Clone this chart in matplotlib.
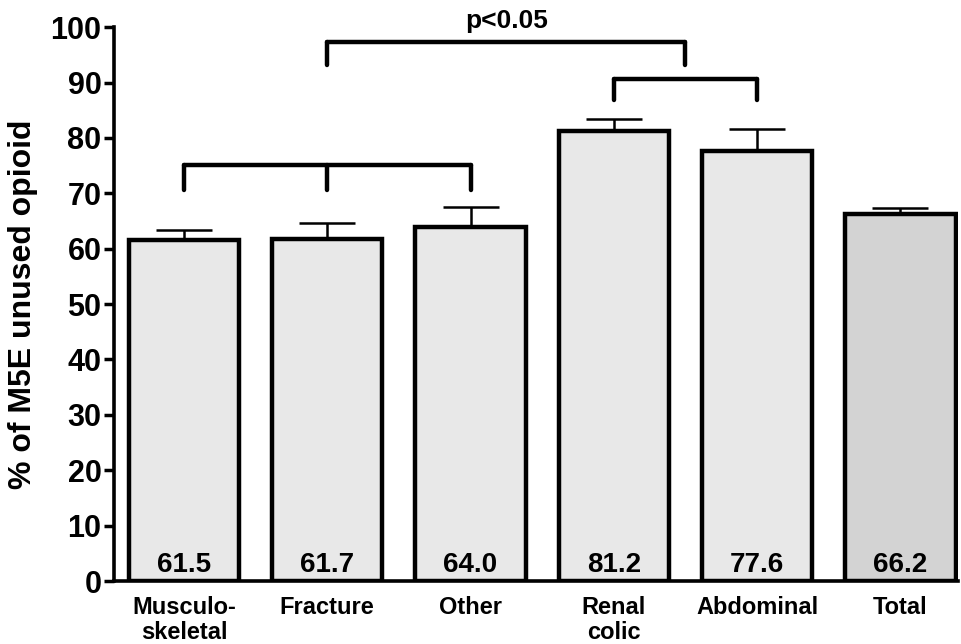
import numpy as np
import matplotlib

matplotlib.use("Agg")
import matplotlib.pyplot as plt

# data
categories = ["Musculo-\nskeletal", "Fracture", "Other", "Renal\ncolic", "Abdominal", "Total"]
means = [61.5, 61.7, 64.0, 81.2, 77.6, 66.2]
sem = [1.9, 2.9, 3.6, 2.2, 4.0, 1.2]
labels = ["61.5", "61.7", "64.0", "81.2", "77.6", "66.2"]
colors = ["#e8e8e8"] * 5 + ["#d3d3d3"]

FONT = ["Liberation Sans", "DejaVu Sans"]

fig = plt.figure(figsize=(9.61, 6.44), dpi=100)
ax = fig.add_axes([0.1186, 0.0978, 0.878, 0.860])

x = np.arange(len(means))
ax.errorbar(x, means, yerr=[np.zeros(len(sem)), sem], fmt="none",
            ecolor="black", elinewidth=1.8, capsize=20, capthick=1.8, zorder=1)
ax.bar(x, means, width=0.77, color=colors, edgecolor="black", linewidth=3.2, zorder=2)

for xi, lab in zip(x, labels):
    ax.text(xi, 1.6, lab, ha="center", va="baseline", fontsize=20,
            fontweight="bold", family=FONT, zorder=3)


# significance brackets
def bracket(xs, top, bottom):
    kw = dict(color="black", lw=3.2, solid_capstyle="round", clip_on=False, zorder=4)
    ax.plot([min(xs), max(xs)], [top, top], **kw)
    for xv in xs:
        ax.plot([xv, xv], [top, bottom], **kw)


bracket([0, 1, 2], 75.1, 70.6)
bracket([3, 4], 90.7, 86.8)
bracket([1, 3.5], 97.3, 93.1)
ax.text(2.25, 99.0, "p<0.05", ha="center", va="bottom", fontsize=19,
        fontweight="bold", family=FONT, clip_on=False)

ax.set_xlim(-0.488, 5.40)
ax.set_ylim(0, 100)
ax.set_yticks(np.arange(0, 101, 10))
ax.set_xticks(x)
ax.set_xticklabels(categories, fontsize=17, fontweight="bold", family=FONT,
                   linespacing=1.1)
ax.tick_params(axis="x", length=0, pad=11)
ax.tick_params(axis="y", length=7, width=2.5, pad=2, labelsize=22)
for t in ax.get_yticklabels():
    t.set_fontweight("bold")
    t.set_family(FONT)

for s in ["top", "right"]:
    ax.spines[s].set_visible(False)
for s in ["left", "bottom"]:
    ax.spines[s].set_linewidth(2.6)

ax.set_ylabel("% of M5E unused opioid", fontsize=23, fontweight="bold", family=FONT)
ax.yaxis.set_label_coords(-0.09, 0.5)

fig.savefig("out.png", dpi=100)
